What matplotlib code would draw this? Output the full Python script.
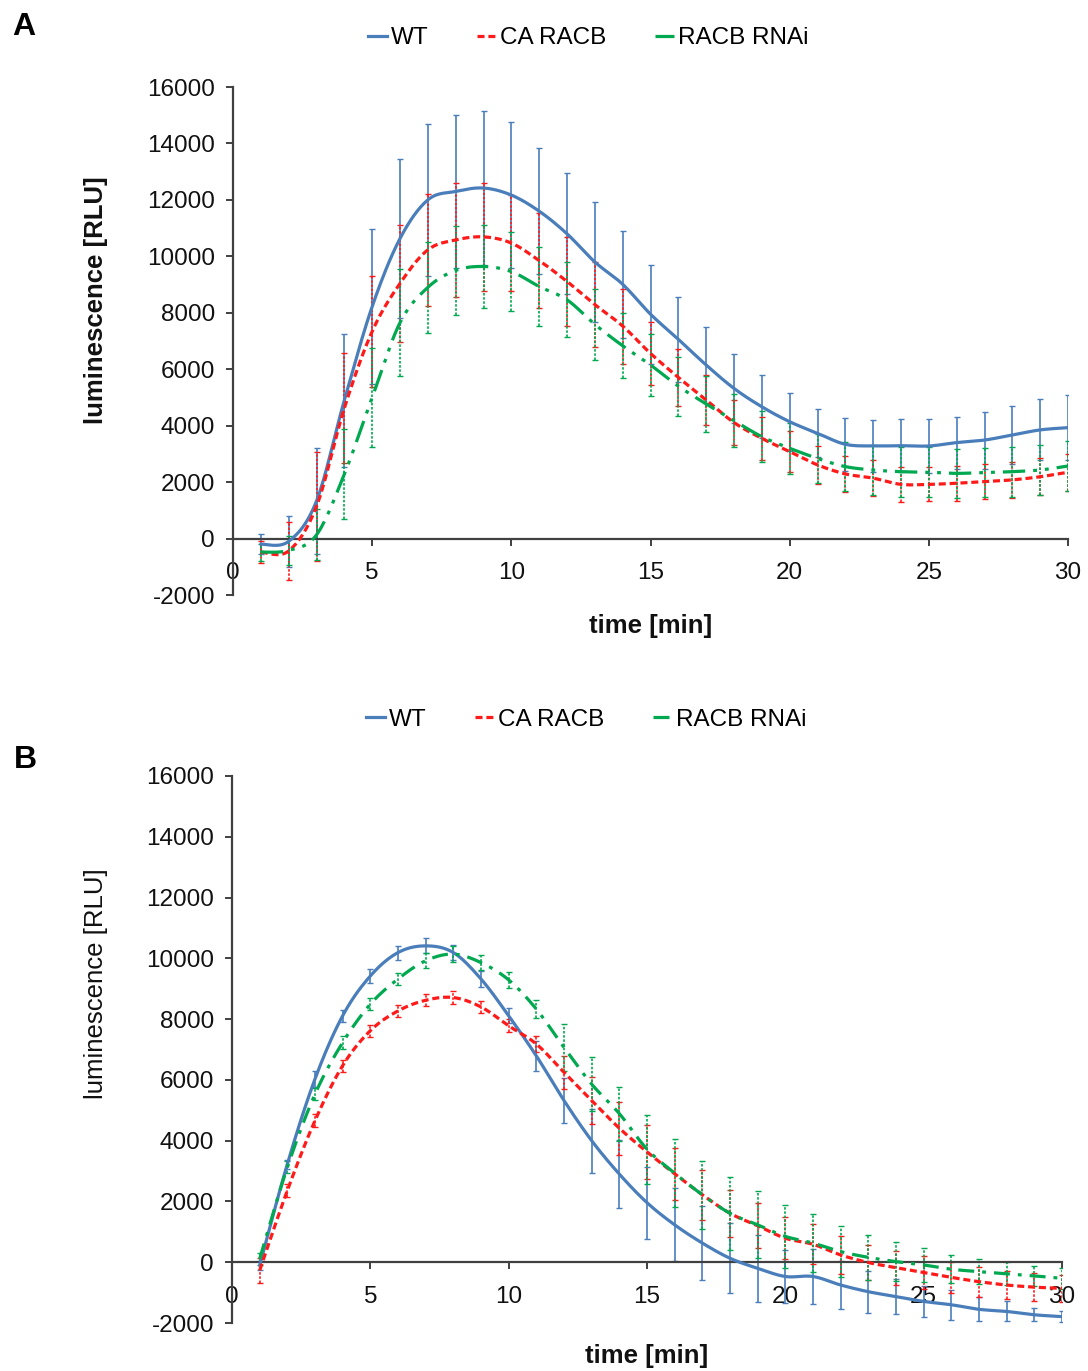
import numpy as np
import matplotlib
matplotlib.use("Agg")
import matplotlib.pyplot as plt
from matplotlib.lines import Line2D

plt.rcParams['font.family'] = ['Liberation Sans', 'DejaVu Sans']
plt.rcParams['axes.unicode_minus'] = False

# ---------------- data ----------------
time_min = list(range(1, 31))

# Panel A
wt_a = [-200, -100, 1330, 4900, 8220, 10630, 12000, 12300, 12420, 12170, 11600, 10800, 9800, 9010, 7950,
        7060, 6150, 5320, 4670, 4140, 3730, 3340, 3280, 3290, 3280, 3400, 3490, 3670, 3850, 3930]
wt_a_err = [360, 900, 1870, 2360, 2760, 2820, 2690, 2720, 2740, 2600, 2240, 2150, 2140, 1890, 1750,
            1510, 1350, 1220, 1120, 1030, 850, 940, 920, 930, 960, 920, 1010, 1040, 1080, 1160]
ca_a = [-480, -440, 1140, 4620, 7340, 9040, 10230, 10580, 10690, 10470, 9850, 9110, 8290, 7530, 6560,
        5710, 4910, 4110, 3550, 3080, 2610, 2290, 2140, 1920, 1920, 1960, 2020, 2080, 2190, 2350]
ca_a_err = [400, 1040, 1930, 1960, 1980, 2070, 1980, 2030, 1920, 1710, 1690, 1590, 1500, 1330, 1120,
            1000, 880, 800, 760, 720, 680, 650, 640, 620, 600, 620, 620, 640, 650, 650]
rnai_a = [-480, -420, 130, 2280, 5000, 7650, 8900, 9500, 9640, 9460, 8930, 8460, 7590, 6830, 6150,
          5400, 4770, 4180, 3610, 3200, 2840, 2550, 2430, 2370, 2350, 2310, 2340, 2370, 2430, 2570]
rnai_a_err = [300, 500, 900, 1600, 1750, 1900, 1600, 1580, 1460, 1400, 1400, 1330, 1250, 1150, 1100,
              1050, 1000, 950, 900, 900, 880, 880, 880, 880, 880, 880, 880, 880, 880, 900]

# Panel B
wt_b = [-110, 3230, 6030, 8110, 9420, 10190, 10410, 10190, 9320, 8110, 6790, 5320, 4000, 2900, 1960,
        1230, 630, 130, -200, -470, -470, -750, -970, -1130, -1290, -1400, -1550, -1620, -1730, -1790]
wt_b_err = [150, 150, 270, 200, 220, 230, 250, 240, 260, 250, 490, 750, 1050, 1120, 1180,
            1200, 1210, 1150, 1100, 880, 900, 800, 690, 590, 520, 500, 400, 330, 220, 170]
ca_b = [-270, 2360, 4660, 6470, 7620, 8270, 8620, 8710, 8400, 7780, 7180, 6250, 5320, 4410, 3630,
        2910, 2220, 1610, 1200, 790, 590, 240, -10, -180, -340, -500, -640, -750, -820, -860]
ca_b_err = [400, 220, 220, 200, 200, 200, 200, 200, 200, 220, 270, 550, 770, 870, 880,
            860, 820, 780, 740, 700, 660, 620, 590, 560, 530, 510, 490, 470, 450, 440]
rnai_b = [110, 3120, 5530, 7230, 8490, 9320, 9920, 10140, 9860, 9290, 8330, 7070, 5860, 4890, 3720,
          2930, 2220, 1610, 1230, 850, 630, 350, 160, 20, -90, -230, -310, -380, -450, -530]
rnai_b_err = [200, 200, 200, 200, 200, 200, 250, 250, 250, 250, 300, 770, 880, 890, 1130,
              1120, 1120, 1200, 1100, 1040, 960, 850, 740, 630, 550, 470, 410, 380, 340, 350]

series_names = ["WT", "CA RACB", "RACB RNAi"]
y_ticks = [-2000, 0, 2000, 4000, 6000, 8000, 10000, 12000, 14000, 16000]
x_ticks = [0, 5, 10, 15, 20, 25, 30]

# ---------------- styles ----------------
C_BLUE = '#4a7ebb'
C_RED = '#ff1a1a'
C_GREEN = '#00a850'
AX_COL = '#404040'


def smooth(x, y, n=16):
    """Catmull-Rom curve through the data points (Excel-style smoothed line)."""
    x = np.asarray(x, float)
    y = np.asarray(y, float)
    px = np.concatenate([[x[0]], x, [x[-1]]])
    py = np.concatenate([[y[0]], y, [y[-1]]])
    xs, ys = [], []
    t = np.linspace(0, 1, n, endpoint=False)
    for i in range(1, len(px) - 2):
        for arr, out in ((px, xs), (py, ys)):
            p0, p1, p2, p3 = arr[i - 1], arr[i], arr[i + 1], arr[i + 2]
            out.extend(0.5 * ((2 * p1) + (-p0 + p2) * t + (2 * p0 - 5 * p1 + 4 * p2 - p3) * t ** 2
                              + (-p0 + 3 * p1 - 3 * p2 + p3) * t ** 3))
    xs.append(x[-1])
    ys.append(y[-1])
    return np.array(xs), np.array(ys)


W, H = 1088, 1371
fig = plt.figure(figsize=(W / 100, H / 100), dpi=100)

TICK_FS = 17.5
LAB_FS = 18.5


def make_axes(rect, series, ylabel_bold, ylab_y, green_ls):
    ax = fig.add_axes(rect)
    styles = [
        dict(color=C_BLUE, ls='-', els='-'),
        dict(color=C_RED, ls=(0, (2.2, 1.2)), els=(0, (1.5, 1.0))),
        dict(color=C_GREEN, ls=green_ls, els=(0, (1.5, 1.0))),
    ]
    for (vals, errs), st in zip(series, styles):
        eb = ax.errorbar(time_min, vals, yerr=errs, fmt='none', ecolor=st['color'],
                         elinewidth=1.2, capsize=2, capthick=1.0, zorder=2)
        eb[2][0].set_linestyle(st['els'])
    for (vals, errs), st in zip(series, styles):
        sx, sy = smooth(time_min, vals)
        ax.plot(sx, sy, color=st['color'], lw=2.3, ls=st['ls'], zorder=3,
                solid_capstyle='round', dash_capstyle='butt')
    ax.set_xlim(0, 30)
    ax.set_ylim(-2000, 16000)
    ax.set_xticks(x_ticks)
    ax.set_yticks(y_ticks)
    ax.spines['top'].set_visible(False)
    ax.spines['right'].set_visible(False)
    ax.spines['bottom'].set_position(('data', 0))
    for s in ('left', 'bottom'):
        ax.spines[s].set_color(AX_COL)
        ax.spines[s].set_linewidth(1.6)
    ax.tick_params(axis='both', direction='out', length=5, width=1.4, color=AX_COL,
                   labelsize=TICK_FS, labelcolor='#111111')
    ax.tick_params(axis='x', pad=12)
    ax.tick_params(axis='y', pad=8)
    ax.set_xlabel('time [min]', fontsize=LAB_FS, fontweight='bold', color='#111111')
    ax.xaxis.set_label_coords(0.5, -0.038)
    ax.set_ylabel('luminescence [RLU]', fontsize=LAB_FS,
                  fontweight='bold' if ylabel_bold else 'normal', color='#111111')
    ax.yaxis.set_label_coords(-0.15, ylab_y)
    return ax, styles


def add_legend(styles, x_center, y_center):
    handles = [Line2D([0], [0], color=st['color'], lw=2.3, ls=st['ls']) for st in styles]
    fig.legend(handles, series_names, loc='center', bbox_to_anchor=(x_center / W, 1 - y_center / H),
               ncol=3, frameon=False, fontsize=17.5, handlelength=0.8, handletextpad=0.15,
               columnspacing=2.0)


# Panel A
rectA = [233 / W, 1 - 595 / H, (1068 - 233) / W, (595 - 87) / H]
axA, stA = make_axes(rectA, [(wt_a, wt_a_err), (ca_a, ca_a_err), (rnai_a, rnai_a_err)],
                     True, 0.58, (0, (7, 2.5, 1.2, 2.5, 1.2, 2.5)))
add_legend(stA, 588, 38)

# Panel B
rectB = [232 / W, 1 - 1323 / H, (1062 - 232) / W, (1323 - 776) / H]
axB, stB = make_axes(rectB, [(wt_b, wt_b_err), (ca_b, ca_b_err), (rnai_b, rnai_b_err)],
                     False, 0.62, (0, (5, 2.5, 1.2, 2.5)))
add_legend(stB, 586, 720)

fig.text(12 / W, 1 - 27 / H, 'A', fontsize=23, fontweight='bold', va='center', ha='left')
fig.text(14 / W, 1 - 760 / H, 'B', fontsize=23, fontweight='bold', va='center', ha='left')

fig.savefig('out.png', dpi=100, facecolor='white')
